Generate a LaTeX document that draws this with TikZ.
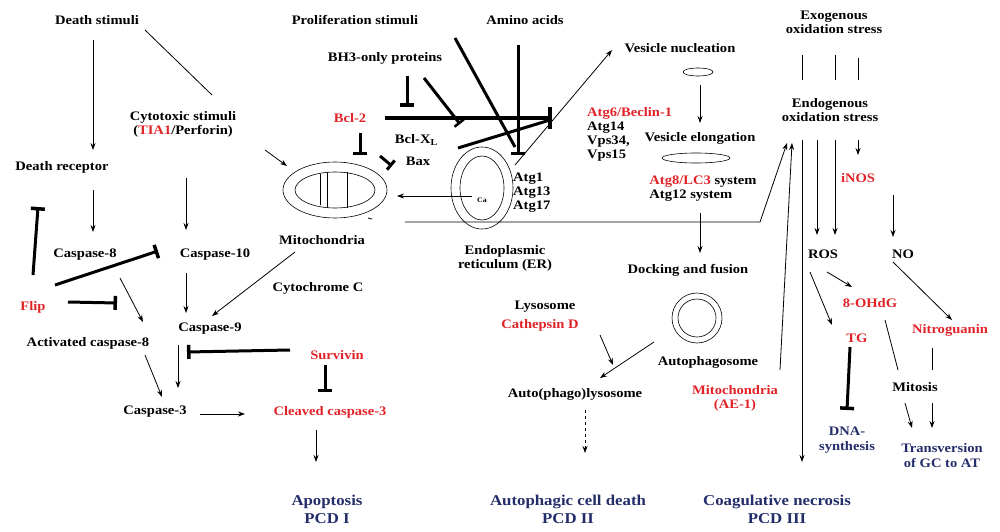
\documentclass[tikz,border=0pt]{standalone}
\usepackage{fontspec}
\setmainfont{Liberation Serif}[FakeStretch=1.12]
\usetikzlibrary{arrows.meta,shapes.geometric}
\definecolor{rd}{RGB}{225,35,40}
\definecolor{bl}{RGB}{35,45,105}
\begin{document}
\begin{tikzpicture}[x=1pt,y=-1pt,
 t/.style={font=\fontsize{13}{14}\selectfont\bfseries,inner sep=1pt},
 r/.style={t,text=rd},
 b/.style={font=\fontsize{15}{18}\selectfont\bfseries,text=bl,inner sep=1pt,align=center},
 a/.style={-{Stealth[length=7pt,width=5pt]},line width=0.8pt},
 ln/.style={line width=0.8pt},
 inh/.style={-{Bar[width=22pt,line width=4pt]},line width=3.5pt},
 inhs/.style={-{Bar[width=14pt,line width=3.5pt]},line width=3pt}]
\useasboundingbox (0,0) rectangle (1000,532);
\clip (0,0) rectangle (1000,532);
% left column
\node[t] (ds) at (97,20) {Death stimuli};
\node[t,align=center] (cs) at (183,124) {Cytotoxic stimuli\\ (\textcolor{rd}{TIA1}/Perforin)};
\node[t] (dr) at (62,167) {Death receptor};
\node[t] (c8) at (85,255) {Caspase-8};
\node[t] (c10) at (215,255) {Caspase-10};
\node[r] (flip) at (33,307) {Flip};
\node[t] (ac8) at (88,343) {Activated caspase-8};
\node[t] (c9) at (210,329) {Caspase-9};
\node[t] (c3) at (155,412) {Caspase-3};
\node[r] (cc3) at (330,412) {Cleaved caspase-3};
\node[r] (surv) at (337,355) {Survivin};
\node[t] (cyt) at (318,288) {Cytochrome C};
\node[t] (mitl) at (322,240) {Mitochondria};
\node[b] (apo) at (327,509) {Apoptosis\\PCD I};
\draw[a] (93,40) -- (93,150);
\draw[ln] (145,30) -- (212,95);
\draw[a] (265,150) -- (287,166);
\draw[a] (93,190) -- (93,232);
\draw[a] (186,178) -- (186,230);
\draw[inhs] (55,285) -- (158,251);
\draw[inhs] (33,275) -- (38,207);
\draw[inhs] (68,302) -- (117,303);
\draw[a] (120,278) -- (143,322);
\draw[a] (186,273) -- (186,313);
\draw[a] (295,252) -- (212,316);
\draw[a] (178,345) -- (178,388);
\draw[a] (145,355) -- (162,397);
\draw[inhs] (290,350) -- (187,352);
\draw[inhs] (325,365) -- (325,392);
\draw[a] (200,414) -- (245,414);
\draw[a] (316,430) -- (316,462);
% mitochondria
\node[draw,ellipse,minimum width=104pt,minimum height=56pt,line width=0.6pt] (mito) at (335,190) {};
\draw[line width=0.6pt] (335,190) ellipse (40 and 18);
\draw[line width=0.6pt] (320,174)--(320,205) (327,172)--(327,208) (347,172)--(347,208);
\draw[ln] (368,218)--(372,219);
% Bcl region
\node[r] (bcl2) at (350,118) {Bcl-2};
\node[t] (bclx) at (416,140) {Bcl-X$_{\mathbf L}$};
\node[t] (bax) at (418,161) {Bax};
\node[t] (bh3) at (385,58) {BH3-only proteins};
\node[t] (ps) at (355,20) {Proliferation stimuli};
\node[t] (aa) at (525,20) {Amino acids};
\draw[inhs] (360,133) -- (360,155);
\draw[-{Bar[width=12pt,line width=3pt]},line width=3pt] (380,156) -- (392,166);
\draw[inhs] (407,76) -- (407,107);
\draw[-{Bar[width=12pt,line width=2.5pt]},line width=3pt] (424,78) -- (460,124);
\draw[inh] (385,118) -- (552,118);
\draw[line width=3pt] (458,148) -- (550,120);
\draw[line width=3pt] (455,38) -- (515,147);
\draw[inhs] (518,45) -- (518,155);
% ER
\node[draw,ellipse,minimum width=62pt,minimum height=82pt,line width=0.6pt] (er) at (482,188) {};
\draw[line width=0.6pt] (482,188) ellipse (22 and 32);
\node[font=\fontsize{7}{8}\selectfont\bfseries] (ca) at (482,200) {Ca};
\draw[a] (472,196) -- (397,196);
\node[t,align=center] (erl) at (505,258) {Endoplasmic\\reticulum (ER)};
\node[t,align=left,anchor=west] (atg1) at (512,193) {Atg1\\Atg13\\Atg17};
\coordinate (k1) at (760,222);
\draw[a] (405,222) -- (k1) -- (787,143);
\draw[a] (515,165) -- (612,50);
% autophagy column
\node[t] (vn) at (680,48) {Vesicle nucleation};
\draw[line width=0.6pt] (698,72) ellipse (15 and 4);
\draw[a] (700,85) -- (700,123);
\node[t,align=left,anchor=west] (atg6) at (586,134) {\textcolor{rd}{Atg6/Beclin-1}\\Atg14\\Vps34,\\Vps15};
\node[t] (ve) at (700,138) {Vesicle elongation};
\draw[line width=0.6pt] (696,158) ellipse (34 and 5);
\node[t,align=left] (atg8) at (703,189) {\textcolor{rd}{Atg8/LC3} system\\Atg12 system};
\draw[a] (700,213) -- (700,253);
\node[t] (df) at (688,270) {Docking and fusion};
\node[draw,circle,minimum size=50pt,line width=0.6pt] (ap) at (697,318) {};
\draw[line width=0.6pt] (697,318) circle (19);
\node[t] (apl) at (708,362) {Autophagosome};
\node[t] (lys) at (545,307) {Lysosome};
\node[r] (cat) at (540,325) {Cathepsin D};
\node[t] (apll) at (575,394) {Auto(phago)lysosome};
\draw[a] (600,335) -- (613,365);
\draw[a] (654,342) -- (600,378);
\draw[a,dashed] (585,410) -- (585,453);
\node[b] (apd) at (568,509) {Autophagic cell death\\PCD II};
\node[r,align=center] (mae) at (735,398) {Mitochondria\\(AE-1)};
\draw[a] (780,370) -- (792,143);
% oxidation column
\node[t,align=center] (exo) at (834,22) {Exogenous\\oxidation stress};
\draw[ln] (802,55)--(802,80) (835,55)--(835,80) (858,58)--(858,80);
\node[t,align=center] (endo) at (830,110) {Endogenous\\oxidation stress};
\draw[a] (802,140) -- (802,462);
\draw[a] (817,140) -- (817,235);
\draw[a] (835,140) -- (835,235);
\draw[a] (858,140) -- (858,155);
\node[r] (inos) at (858,178) {iNOS};
\draw[a] (893,195) -- (893,237);
\node[t] (ros) at (823,254) {ROS};
\node[t] (no) at (903,254) {NO};
\node[r] (ohdg) at (870,303) {8-OHdG};
\node[r] (tg) at (857,338) {TG};
\node[r] (nitro) at (950,330) {Nitroguanin};
\draw[a] (827,272) -- (852,287);
\draw[a] (810,272) -- (832,325);
\draw[a] (893,262) -- (952,320);
\draw[inhs] (850,347) -- (847,410);
\node[b,font=\fontsize{13}{15}\selectfont\bfseries] (dna) at (847,440) {DNA-\\synthesis};
\draw[ln] (885,320) -- (898,370);
\draw[ln] (932,348) -- (932,370);
\node[t] (mit) at (915,387) {Mitosis};
\draw[a] (905,403) -- (912,428);
\draw[a] (932,403) -- (932,428);
\node[b,font=\fontsize{13}{15}\selectfont\bfseries] (tv) at (942,456) {Transversion\\of GC to AT};
\node[b] (cn) at (777,509) {Coagulative necrosis\\PCD III};
\end{tikzpicture}
\end{document}
